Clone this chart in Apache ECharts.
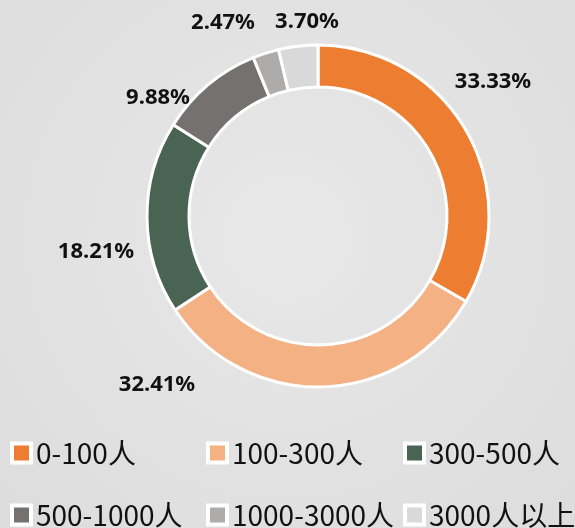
<!DOCTYPE html>
<html><head><meta charset="utf-8">
<script src="https://cdn.jsdelivr.net/npm/echarts@6/dist/echarts.min.js"></script>
<style>html,body{margin:0;padding:0;}#c{width:575px;height:528px;}</style>
</head><body><div id="c"></div>
<script>
const categories = ['0-100人','100-300人','300-500人','500-1000人','1000-3000人','3000人以上'];
const counts = [108,105,59,32,8,12];
const percentLabels = ['33.33%','32.41%','18.21%','9.88%','2.47%','3.70%'];
const colors = ['#ED7D31','#F4B183','#4A6454','#767171','#AEABAB','#D9D9D9'];

// manually placed label anchors (as in the reference), relative to pie center
const labelPlace = [[175,-134],[-161,169],[-222,36],[-160,-118],[-95,-193],[-11,-194]];
const CX = 318, CY = 216;
const legendCols = [9,205,402];
const legendRows = [439,501];

const chart = echarts.init(document.getElementById('c'));
const mkLegend = (name, i) => ({
  orient:'horizontal', left:legendCols[i%3], top:legendRows[Math.floor(i/3)], padding:0,
  itemWidth:0, itemHeight:0, icon:'none', data:[name], selectedMode:false,
  formatter: n => '{i|}{t|' + n + '}',
  textStyle:{
    rich:{
      i:{width:15, height:15, backgroundColor:colors[i], borderColor:'#fff', borderWidth:4, verticalAlign:'middle'},
      t:{fontFamily:'Noto Sans CJK SC', fontSize:28, lineHeight:30, color:'#111', padding:[0,0,0,7], verticalAlign:'middle'}
    }
  }
});
chart.setOption({
  backgroundColor:{type:'radial',x:0.5,y:0.45,r:0.8,colorStops:[{offset:0,color:'#e8e8e8'},{offset:1,color:'#dcdcdc'}]},
  color: colors,
  legend: categories.map(mkLegend),
  series:[{
    type:'pie', center:[CX,CY], radius:[129,171], startAngle:90, clockwise:true,
    avoidLabelOverlap:false,
    itemStyle:{borderColor:'#fff', borderWidth:3},
    label:{show:true, position:'outside', formatter:p=>percentLabels[p.dataIndex],
      fontFamily:'Noto Sans', fontWeight:'bold', fontSize:22, color:'#111'},
    labelLine:{show:false, length:12, length2:0},
    labelLayout: p => ({x: CX + labelPlace[p.dataIndex][0], y: CY + labelPlace[p.dataIndex][1], align:'center', verticalAlign:'middle', hideOverlap:false}),
    emphasis:{disabled:true},
    data: categories.map((n,i)=>({name:n, value:counts[i]}))
  }]
});
</script></body></html>
